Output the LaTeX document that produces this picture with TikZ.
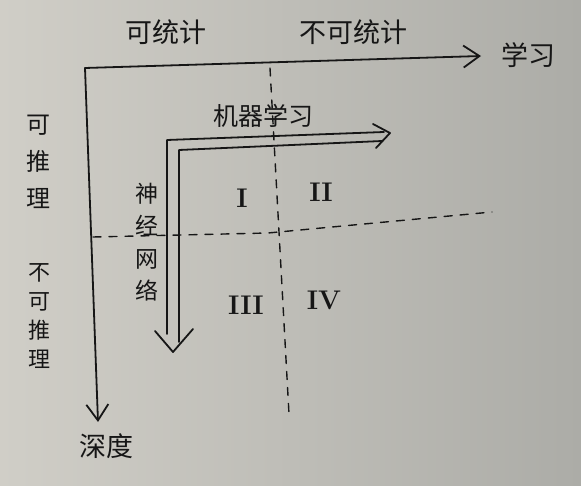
\documentclass[tikz,border=0pt]{standalone}
\usepackage{fontspec}
\newfontfamily\cjk{Noto Sans CJK SC}
\usetikzlibrary{arrows.meta}
\definecolor{paperL}{RGB}{208,206,199}
\definecolor{paperR}{RGB}{172,172,167}
\definecolor{ink}{RGB}{22,22,22}
\begin{document}
\begin{tikzpicture}[x=1pt,y=-1pt,
  inkln/.style={line width=1.8pt, draw=ink, line cap=round, line join=round},
  dashln/.style={line width=1.4pt, draw=ink, line cap=round, dash pattern=on 8pt off 8pt},
  lbl/.style={font=\cjk\fontsize{27}{30}\selectfont, text=ink, inner sep=0pt},
  roman/.style={font=\fontsize{27}{29}\selectfont\bfseries, text=ink, inner sep=0pt},
  openarrow/.style={-{Straight Barb[length=16pt,width=22pt,line width=1.8pt]}}]
\shade[left color=paperL, right color=paperR] (0,0) rectangle (581,486);
\useasboundingbox (0,0) rectangle (581,486);

% axes
\coordinate (O) at (85,68);
\coordinate (Xtip) at (481,56);
\coordinate (Ytip) at (98,422);
\draw[inkln, openarrow] (O) -- (Xtip);
\draw[inkln, openarrow] (O) -- (Ytip);

% axis labels
\node[lbl] (xlab) at (528,55) {学习};
\node[lbl] (ylab) at (106,446) {深度};
\node[lbl] (stat) at (166,32) {可统计};
\node[lbl] (nstat) at (353,32) {不可统计};
\node[lbl, align=center, font=\cjk\fontsize{24}{37}\selectfont] (reason) at (39,162) {可\\推\\理};
\node[lbl, align=center, font=\cjk\fontsize{22}{29}\selectfont] (nreason) at (39,316) {不\\可\\推\\理};

% dashed dividers
\coordinate (vtop) at (270,68);
\coordinate (vbot) at (289,414);
\draw[dashln] (vtop) -- (vbot);
\coordinate (hl) at (93,237);
\coordinate (hm) at (268,233);
\coordinate (hr) at (492,212);
\draw[dashln] (hl) -- (hm) -- (hr);

% machine learning / neural network double arrow
\coordinate (oc) at (167,140);
\coordinate (oh) at (384,132);
\coordinate (ov) at (167,334);
\coordinate (ic) at (179,150);
\coordinate (ih) at (382,141);
\coordinate (iv) at (179,342);
\draw[inkln] (ov) -- (oc) -- (oh);
\draw[inkln] (iv) -- (ic) -- (ih);
\coordinate (ha) at (373,124);
\coordinate (ht) at (390,133);
\coordinate (hb) at (376,148);
\draw[inkln] (ha) -- (ht) -- (hb);
\coordinate (va) at (155,331);
\coordinate (vt) at (173,352);
\coordinate (vb) at (193,329);
\draw[inkln] (va) -- (vt) -- (vb);

\node[lbl, font=\cjk\fontsize{25}{28}\selectfont] (ml) at (263,116) {机器学习};
\node[lbl, align=center, font=\cjk\fontsize{23}{32.5}\selectfont] (nn) at (147,242) {神\\经\\网\\络};

% quadrant numerals
\node[roman] (q1) at (242,198) {I};
\node[roman] (q2) at (321,192) {II};
\node[roman] (q3) at (246,305) {III};
\node[roman] (q4) at (324,300) {IV};
\end{tikzpicture}
\end{document}
